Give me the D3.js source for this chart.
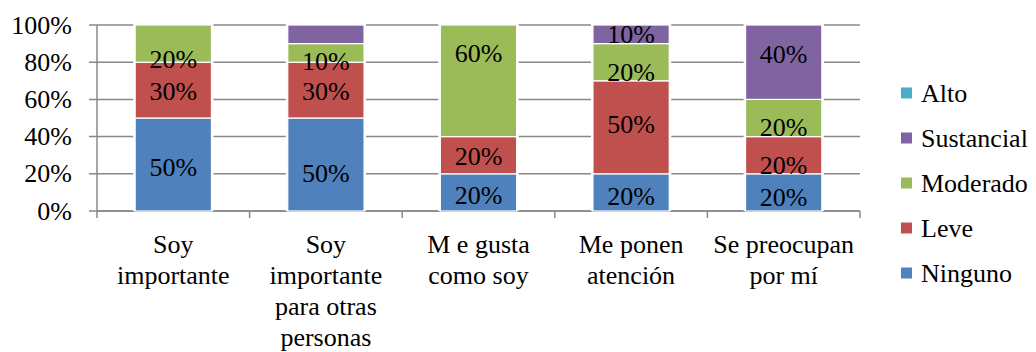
<!DOCTYPE html>
<html>
<head>
<meta charset="utf-8">
<script src="https://cdn.jsdelivr.net/npm/d3@7"></script>
<style>
  html, body { margin: 0; padding: 0; background: #fff; }
</style>
</head>
<body>
<svg id="chart" width="1036" height="352" font-family="Liberation Serif"></svg>
<script>
// Categories (x axis) and the five response levels, in percent
const categories = ["Soy importante", "Soy importante para otras personas", "M e gusta como soy", "Me ponen atención", "Se preocupan por mí"];
const ninguno    = [50, 50, 20, 20, 20];
const leve       = [30, 30, 20, 50, 20];
const moderado   = [20, 10, 60, 20, 20];
const sustancial = [ 0, 10,  0, 10, 40];
const alto       = [ 0,  0,  0,  0,  0];
const seriesNames = ["Ninguno", "Leve", "Moderado", "Sustancial", "Alto"];
const yTicks = [0, 20, 40, 60, 80, 100];
// segments whose value label is not printed: [series, category index]
const unlabeled = [["Sustancial", 1]];

// vertical nudges (px) of the value labels from each segment's middle
const labelNudge = {
  Ninguno:    [2.5, 9, 2.5, 3.5, 5],
  Leve:       [1, 1, 1, -3, 10],
  Moderado:   [15.5, 8.5, -27, 10, 9.5],
  Sustancial: [0, 0, 0, 0, -8],
  Alto:       [0, 0, 0, 0, 0]
};

const colors = {
  Ninguno: "#4F81BD", Leve: "#C0504D", Moderado: "#9BBB59",
  Sustancial: "#8064A2", Alto: "#4BACC6"
};

const svg = d3.select("#chart");
const FONT = 26;
const plotLeft = 97, plotRight = 860, plotTop = 25, plotBottom = 211;
const gridColor = "#888888";

const values = { Ninguno: ninguno, Leve: leve, Moderado: moderado, Sustancial: sustancial, Alto: alto };
const table = categories.map((c, i) => {
  const row = { category: c, index: i };
  seriesNames.forEach(s => row[s] = values[s][i]);
  return row;
});

const x = d3.scaleBand().domain(categories).range([plotLeft, plotRight]).paddingInner(0.5).paddingOuter(0.25);
const y = d3.scaleLinear().domain([0, 100]).range([plotBottom, plotTop]);
const step = x.step();

// plain text helper: serif face, black
function addText(str, px, py, anchor) {
  return svg.append("text")
    .attr("x", px).attr("y", py)
    .attr("font-family", "Liberation Serif")
    .attr("font-size", FONT)
    .attr("text-anchor", anchor)
    .attr("fill", "#000")
    .text(str);
}

// horizontal gridlines
yTicks.forEach(t => {
  svg.append("line").attr("x1", plotLeft - 8).attr("x2", plotRight)
    .attr("y1", y(t)).attr("y2", y(t))
    .attr("stroke", gridColor).attr("stroke-width", 1.5);
});

// axis lines
svg.append("line").attr("x1", plotLeft).attr("x2", plotLeft).attr("y1", plotTop).attr("y2", plotBottom)
  .attr("stroke", gridColor).attr("stroke-width", 1.5);
svg.append("line").attr("x1", plotLeft).attr("x2", plotRight).attr("y1", plotBottom).attr("y2", plotBottom)
  .attr("stroke", gridColor).attr("stroke-width", 1.5);
// category boundary ticks
d3.range(categories.length + 1).forEach(i => {
  const bx = plotLeft + i * step;
  svg.append("line").attr("x1", bx).attr("x2", bx).attr("y1", plotBottom).attr("y2", plotBottom + 7)
    .attr("stroke", gridColor).attr("stroke-width", 1.5);
});

// y tick labels
yTicks.forEach(t => addText(t + "%", 72, y(t) + 8.6, "end"));

// stacked bars
const layers = d3.stack().keys(seriesNames)(table);

// white margin around each bar that clears the gridlines
table.forEach(d => {
  const total = d3.sum(seriesNames, s => d[s]);
  svg.append("rect")
    .attr("x", x(d.category) - 2).attr("width", x.bandwidth() + 4)
    .attr("y", y(total) - 1).attr("height", y(0) - y(total) + 1)
    .attr("fill", "#fff");
});

layers.forEach(layer => {
  layer.forEach(p => {
    if (p[1] <= p[0]) return;
    svg.append("rect")
      .attr("x", x(p.data.category))
      .attr("width", x.bandwidth())
      .attr("y", y(p[1]))
      .attr("height", y(p[0]) - y(p[1]))
      .attr("fill", colors[layer.key])
      .attr("stroke", "#fff").attr("stroke-width", 1.2);
  });
});

// value labels
layers.forEach(layer => {
  layer.forEach((p, i) => {
    const v = p[1] - p[0];
    if (v <= 0) return;
    if (unlabeled.some(u => u[0] === layer.key && u[1] === i)) return;
    const mid = (y(p[0]) + y(p[1])) / 2;
    addText(v + "%", x(p.data.category) + x.bandwidth() / 2, mid + labelNudge[layer.key][i] + 8.6, "middle");
  });
});

// category labels, greedily wrapped to the category width
const charW = { " ": 0.25, S: 0.556, M: 0.889 };
const textWidth = s => d3.sum(Array.from(s), ch => charW[ch] !== undefined ? charW[ch]
  : ("mw".includes(ch) ? 0.75 : "iltfjír".includes(ch) ? 0.3 : 0.47)) * FONT;
categories.forEach(c => {
  const cx = x(c) + x.bandwidth() / 2;
  const lines = [];
  c.split(" ").forEach(w => {
    const last = lines[lines.length - 1];
    if (last !== undefined && textWidth(last + " " + w) <= step - 2) lines[lines.length - 1] = last + " " + w;
    else lines.push(w);
  });
  lines.forEach((ln, i) => addText(ln, cx, 253 + i * 31, "middle"));
});

// legend, top to bottom in reverse stacking order
seriesNames.slice().reverse().forEach((name, i) => {
  const ly = 93 + i * 45;
  svg.append("rect").attr("x", 901).attr("y", ly - 5.5).attr("width", 11).attr("height", 11)
    .attr("fill", colors[name]);
  addText(name, 921, ly + 8.6, "start");
});
</script>
</body>
</html>
